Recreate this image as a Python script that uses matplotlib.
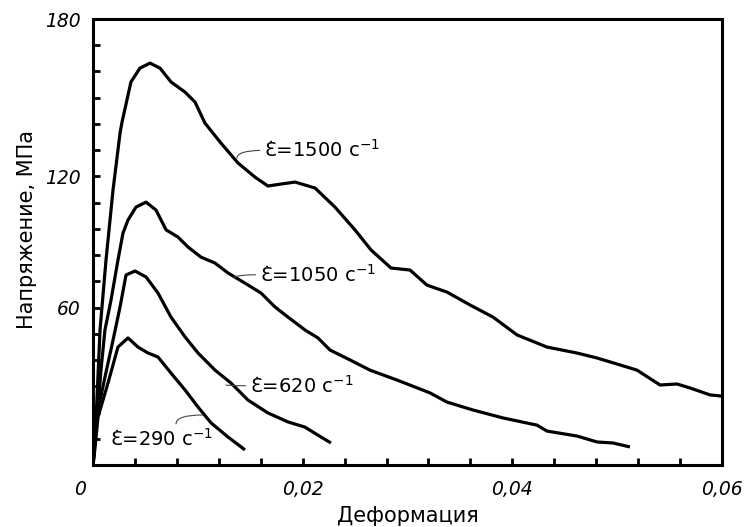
import matplotlib
matplotlib.use("Agg")
import matplotlib.pyplot as plt
from matplotlib.ticker import FixedLocator, MultipleLocator
import matplotlib.transforms as mtransforms

plt.rcParams['font.family'] = ['DejaVu Sans']
plt.rcParams['mathtext.default'] = 'regular'

# strain / stress data (stress in axis units, 0..180 across the frame)
x1500 = [0, 0.00029, 0.00067, 0.00124, 0.00191, 0.00258, 0.00277, 0.00362, 0.00448, 0.00544,
         0.00639, 0.00744, 0.00878, 0.00973, 0.01068, 0.01221, 0.01383, 0.01545, 0.01669, 0.01793,
         0.01927, 0.02118, 0.02308, 0.02499, 0.02652, 0.02843, 0.03024, 0.03186, 0.03377, 0.03596,
         0.03816, 0.04045, 0.04331, 0.04617, 0.04808, 0.05027, 0.05189, 0.05409, 0.05571, 0.05695,
         0.05886, 0.06]
y1500 = [0, 18.2, 54.5, 82.7, 111.0, 134.0, 138.4, 154.6, 160.2, 162.2,
         160.2, 154.6, 150.5, 146.5, 138.0, 129.9, 121.9, 116.2, 112.6, 113.4,
         114.2, 111.8, 104.1, 94.9, 86.8, 79.5, 78.7, 72.6, 69.8, 64.6,
         59.7, 52.5, 47.6, 45.2, 43.2, 40.4, 38.3, 32.3, 32.7, 31.1,
         28.3, 27.8]

x1050 = [0, 0.00038, 0.00076, 0.00114, 0.00172, 0.00238, 0.00286, 0.00334, 0.00410, 0.00506,
         0.00601, 0.00697, 0.00811, 0.00906, 0.01030, 0.01164, 0.01288, 0.01450, 0.01603, 0.01736,
         0.01860, 0.02022, 0.02146, 0.02261, 0.02452, 0.02642, 0.02900, 0.03215, 0.03377, 0.03625,
         0.03911, 0.04235, 0.04331, 0.04617, 0.04808, 0.04960, 0.05122]
y1050 = [0, 18.2, 38.3, 54.5, 66.6, 82.7, 93.6, 98.9, 104.1, 106.1,
         102.9, 94.9, 92.0, 88.0, 83.9, 81.5, 77.5, 73.4, 69.4, 63.8,
         59.7, 54.5, 51.3, 46.4, 42.4, 38.3, 34.3, 29.1, 25.4, 22.2,
         19.0, 16.1, 13.7, 11.7, 9.3, 8.9, 7.3]

x620 = [0, 0.00019, 0.00048, 0.00114, 0.00191, 0.00258, 0.00315, 0.00401, 0.00506, 0.00620,
        0.00744, 0.00878, 0.01002, 0.01164, 0.01316, 0.01479, 0.01669, 0.01860, 0.02022, 0.02175,
        0.02270]
y620 = [0, 10.1, 22.2, 35.5, 50.4, 63.8, 76.7, 78.3, 75.9, 69.4,
        59.7, 51.7, 45.2, 38.3, 33.1, 26.2, 21.0, 17.4, 15.3, 11.3,
        8.9]

x290 = [0, 0.0001, 0.00048, 0.00143, 0.00238, 0.00334, 0.00429, 0.00525, 0.00620, 0.00744,
        0.00878, 0.01002, 0.01126, 0.01288, 0.01450]
y290 = [0, 3.2, 19.4, 33.1, 47.6, 51.3, 47.6, 45.2, 43.6, 37.1,
        30.3, 23.4, 17.0, 11.3, 6.1]

labels = ["1500", "1050", "620", "290"]
xtick_vals = [0, 0.02, 0.04, 0.06]
xtick_labels = ["0", "0,02", "0,04", "0,06"]
ytick_labels = ["60", "120", "180"]

fig = plt.figure(figsize=(7.47, 5.27), dpi=100)
ax = fig.add_axes([0.1245, 0.1176, 0.842, 0.8463])

lw = 2.3
for xs, ys in [(x1500, y1500), (x1050, y1050), (x620, y620), (x290, y290)]:
    ax.plot(xs, ys, color='black', lw=lw, solid_joinstyle='round', solid_capstyle='butt')

ax.set_xlim(0, 0.06)
ax.set_ylim(0, 180)

step = 180 / 17
ax.yaxis.set_major_locator(FixedLocator([6 * step, 11 * step, 17 * step]))
ax.set_yticklabels(ytick_labels)
ax.yaxis.set_minor_locator(MultipleLocator(step))
ax.xaxis.set_major_locator(FixedLocator(xtick_vals))
ax.set_xticklabels(xtick_labels)
ax.xaxis.set_minor_locator(MultipleLocator(0.004))

for s in ax.spines.values():
    s.set_linewidth(2.2)

ax.tick_params(which='both', direction='in', top=False, right=False, width=2.0, length=5)
ax.tick_params(axis='x', which='major', pad=11, labelsize=13.5)
ax.tick_params(axis='y', which='major', pad=9, labelsize=13.5)
for t in ax.get_xticklabels() + ax.get_yticklabels():
    t.set_fontstyle('italic')

# shift the origin "0" label slightly left like the reference
lbl0 = ax.get_xticklabels()[0]
lbl0.set_transform(lbl0.get_transform() + mtransforms.ScaledTranslation(-13 / 100, 0, fig.dpi_scale_trans))

ax.set_xlabel("Деформация", fontsize=15, labelpad=5)
ax.set_ylabel("Напряжение, МПа", fontsize=15, labelpad=5)
ax.yaxis.set_label_coords(-0.089, 0.527)

# annotations
ann = [
    ("1500", (0.01374, 123.9), (0.01631, 127.0)),
    ("1050", (0.01345, 75.5), (0.0159, 76.8)),
    ("620", (0.01269, 32.3), (0.01495, 32.0)),
]
sq = dict(arrowstyle='-', color='#444444', lw=0.8, relpos=(0, 0.5),
          connectionstyle='angle3,angleA=0,angleB=90', shrinkA=1, shrinkB=0)
for lab, pt, txt in ann:
    ax.annotate("Ɛ̇=" + lab + " c$^{-1}$", xy=pt, xytext=txt, fontsize=14,
                va='center', ha='left', arrowprops=sq)

ax.annotate("Ɛ̇=290 c$^{-1}$", xy=(0.01049, 20.2), xytext=(0.00159, 10.4), fontsize=14,
            va='center', ha='left')
ax.annotate("", xy=(0.01049, 20.2), xytext=(0.00792, 16.6),
            arrowprops=dict(arrowstyle='-', color='#444444', lw=0.8,
                            connectionstyle='angle3,angleA=90,angleB=0', shrinkA=0, shrinkB=0))

fig.savefig("out.png", dpi=100)
